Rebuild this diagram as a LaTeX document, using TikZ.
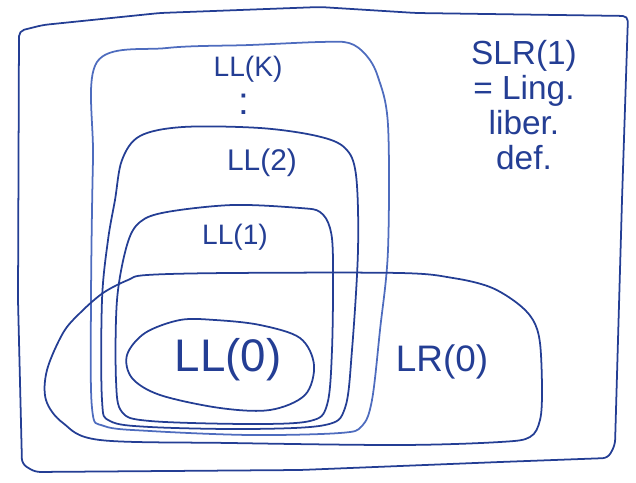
\documentclass[tikz,border=0pt]{standalone}
\usepackage{fontspec}
\setmainfont{Liberation Sans}
\definecolor{ink}{RGB}{36,62,148}
\definecolor{inklight}{RGB}{78,108,190}
\tikzset{
  pen/.style={draw=ink, line width=1pt, line join=round},
  blob/.style={pen, smooth cycle, tension=0.55},
  lbl/.style={text=ink, inner sep=0pt},
}
\begin{document}
\begin{tikzpicture}[x=0.02cm, y=-0.02cm]
\useasboundingbox (0,0) rectangle (636,483);
% outer frame
\draw[pen, rounded corners=3pt] (19,31) -- (43,25) -- (160,13) -- (320,7) -- (416,13) -- (628,16)
  -- (622,200) -- (615,445) -- (608,458) -- (500,462) -- (300,470) -- (35,472)
  -- (22,464) -- (18,300) -- cycle;
% LL(K)
\draw[blob, draw=inklight] plot coordinates {(97,62) (167,48) (250,45) (320,42) (349,43)
  (366,55) (378,77) (388,125) (388,250) (380,330) (372,400) (362,426) (340,433) (250,435)
  (150,431) (104,426) (92,408) (91,300) (93,160)};
% LL(2)
\draw[blob] plot coordinates {(122,160) (140,136) (183,127) (260,128) (317,136) (345,148)
  (356,175) (358,250) (352,350) (345,408) (325,425) (250,429) (150,427) (110,421)
  (102,400) (102,300) (108,240) (115,200)};
% LL(1)
\draw[blob] plot coordinates {(127,245) (140,222) (167,212) (233,205) (300,208) (320,212)
  (330,228) (333,260) (332,350) (327,405) (310,421) (250,424) (150,421) (122,412)
  (116,380) (117,300)};
% LR(0)
\draw[blob] plot coordinates {(147,275) (230,273) (400,273) (453,278) (490,287) (517,303)
  (533,320) (540,343) (542,390) (540,420) (530,437) (500,442) (400,445) (230,443)
  (100,440) (63,423) (46,400) (47,370) (63,333) (80,313) (103,293) (128,280)};
% LL(0)
\draw[blob] plot coordinates {(127,355) (145,333) (180,320) (215,320) (260,325) (300,338)
  (314,365) (305,395) (270,410) (220,408) (160,395) (132,378)};
\node[lbl, font=\fontsize{16}{19}\selectfont] (llk) at (248,69) {LL(K)};
\node[lbl, font=\fontsize{22}{24}\selectfont] (dots) at (244,104) {:};
\node[lbl, font=\fontsize{17}{20}\selectfont] (ll2) at (262,163) {LL(2)};
\node[lbl, font=\fontsize{16}{19}\selectfont] (ll1) at (235,237) {LL(1)};
\node[lbl, font=\fontsize{26}{30}\selectfont] (ll0) at (228,360) {LL(0)};
\node[lbl, font=\fontsize{21}{24}\selectfont] (lr0) at (442,362) {LR(0)};
\node[lbl, align=center, font=\fontsize{19}{20}\selectfont] (slr) at (524,105)
  {SLR(1)\\= Ling.\\liber.\\def.};
\end{tikzpicture}
\end{document}
